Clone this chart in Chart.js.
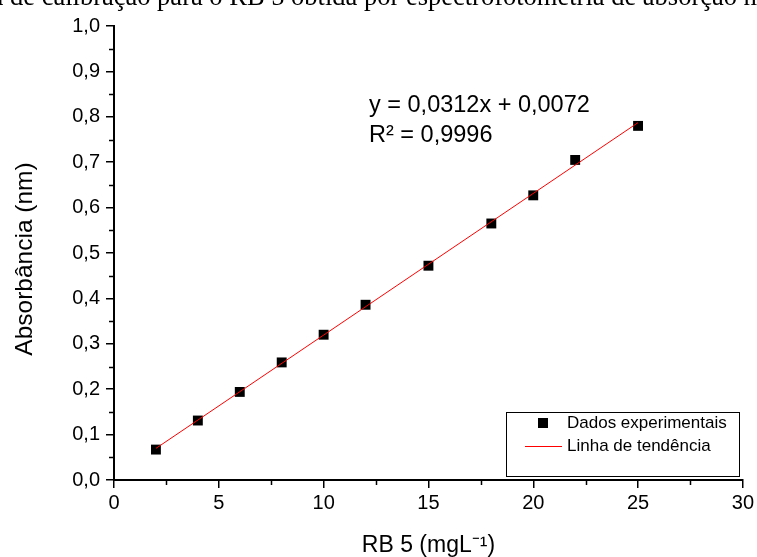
<!DOCTYPE html>
<html lang="pt">
<head>
<meta charset="utf-8">
<title>Curva de calibração RB 5</title>
<script src="https://cdn.jsdelivr.net/npm/chart.js@4.4.1/dist/chart.umd.min.js"></script>
<style>
  html, body { margin: 0; padding: 0; background: #fff; }
  #wrap { width: 757px; height: 557px; position: relative; }
</style>
</head>
<body>
<div id="wrap"><canvas id="curva"></canvas></div>
<script>
// dados
const concentracao = [2, 4, 6, 8, 10, 12, 15, 18, 20, 22, 25];
const absorbancia = [0.067, 0.131, 0.194, 0.259, 0.320, 0.386, 0.472, 0.565, 0.627, 0.705, 0.780];
// linha de tendência (extremos)
const tendenciaX = [2, 25];
const tendenciaY = [0.0696, 0.7872];

const equacao = ['y = 0,0312x + 0,0072', 'R² = 0,9996'];
const legendaTextos = ['Dados experimentais', 'Linha de tendência'];
const tituloY = 'Absorbância (nm)';
const tituloFigura = 'Curva de calibração para o RB 5 obtida por espectrofotometria de absorção molecular';

const sans = '"Liberation Sans", Arial, sans-serif';

const extras = {
  id: 'extras',
  afterDraw(chart) {
    const { ctx, scales: { x, y } } = chart;
    ctx.save();

    // ticks menores
    ctx.strokeStyle = '#000';
    ctx.lineWidth = 1.5;
    ctx.beginPath();
    for (let v = 2.5; v < 30; v += 5) {
      const px = Math.round(x.getPixelForValue(v)) + 0.5;
      ctx.moveTo(px, y.bottom);
      ctx.lineTo(px, y.bottom + 5);
    }
    for (let v = 0.05; v < 1; v += 0.1) {
      const py = Math.round(y.getPixelForValue(v)) + 0.5;
      ctx.moveTo(x.left, py);
      ctx.lineTo(x.left - 5, py);
    }
    ctx.stroke();

    // título cortado no topo
    ctx.fillStyle = '#000';
    ctx.font = '26.5px "Liberation Serif", "Times New Roman", serif';
    ctx.textBaseline = 'alphabetic';
    ctx.textAlign = 'left';
    const off = ctx.measureText('Curva ').width;
    ctx.fillText(tituloFigura, 10 - off, 5);

    // título do eixo y
    ctx.save();
    ctx.translate(25, 259);
    ctx.rotate(-Math.PI / 2);
    ctx.font = '24.5px ' + sans;
    ctx.textAlign = 'center';
    ctx.textBaseline = 'middle';
    ctx.fillText(tituloY, 0, 0);
    ctx.restore();

    // equação
    ctx.font = '23.5px ' + sans;
    ctx.fillText(equacao[0], 369, 112);
    ctx.fillText(equacao[1], 369, 142);

    // legenda
    ctx.lineWidth = 1;
    ctx.strokeRect(506.5, 412.5, 233, 64);
    ctx.fillRect(538, 418, 10, 10);
    ctx.strokeStyle = '#ff0000';
    ctx.beginPath();
    ctx.moveTo(525, 446.5);
    ctx.lineTo(562, 446.5);
    ctx.stroke();
    ctx.font = '17px ' + sans;
    ctx.textBaseline = 'middle';
    ctx.fillText(legendaTextos[0], 567, 423);
    ctx.fillText(legendaTextos[1], 567, 446);

    ctx.restore();
  }
};

new Chart(document.getElementById('curva'), {
  type: 'scatter',
  data: {
    datasets: [
      {
        label: legendaTextos[1],
        type: 'line',
        data: tendenciaX.map((v, i) => ({ x: v, y: tendenciaY[i] })),
        borderColor: '#ff0000',
        borderWidth: 1,
        pointRadius: 0,
        fill: false,
        order: 0,
      },
      {
        label: legendaTextos[0],
        data: concentracao.map((v, i) => ({ x: v, y: absorbancia[i] })),
        pointStyle: 'rect',
        pointRadius: 7,
        pointBackgroundColor: '#000',
        pointBorderColor: '#000',
        pointBorderWidth: 0,
        order: 1,
      },
    ],
  },
  options: {
    responsive: true,
    maintainAspectRatio: false,
    animation: false,
    layout: { padding: { top: 26, right: 13, left: 0, bottom: 0 } },
    plugins: {
      legend: { display: false },
      tooltip: { enabled: false },
    },
    scales: {
      x: {
        type: 'linear',
        min: 0,
        max: 30,
        afterFit: (scale) => { scale.height = 77; },
        border: { display: true, color: '#000', width: 2 },
        grid: { drawOnChartArea: false, color: '#000', lineWidth: 1.5, tickLength: 8 },
        ticks: {
          stepSize: 5,
          color: '#000',
          padding: 3,
          font: { family: sans, size: 20 },
        },
        title: {
          display: true,
          text: 'RB 5 (mgL⁻¹)',
          color: '#000',
          font: { family: sans, size: 23, lineHeight: 1 },
          padding: { top: 0, bottom: 0 },
        },
      },
      y: {
        min: 0,
        max: 1,
        afterFit: (scale) => { scale.width = 114; },
        border: { display: true, color: '#000', width: 2 },
        grid: { drawOnChartArea: false, color: '#000', lineWidth: 1.5, tickLength: 8 },
        ticks: {
          stepSize: 0.1,
          color: '#000',
          padding: 6,
          font: { family: sans, size: 20 },
          callback: (value) => value.toFixed(1).replace('.', ','),
        },
      },
    },
  },
  plugins: [extras],
});
</script>
</body>
</html>
